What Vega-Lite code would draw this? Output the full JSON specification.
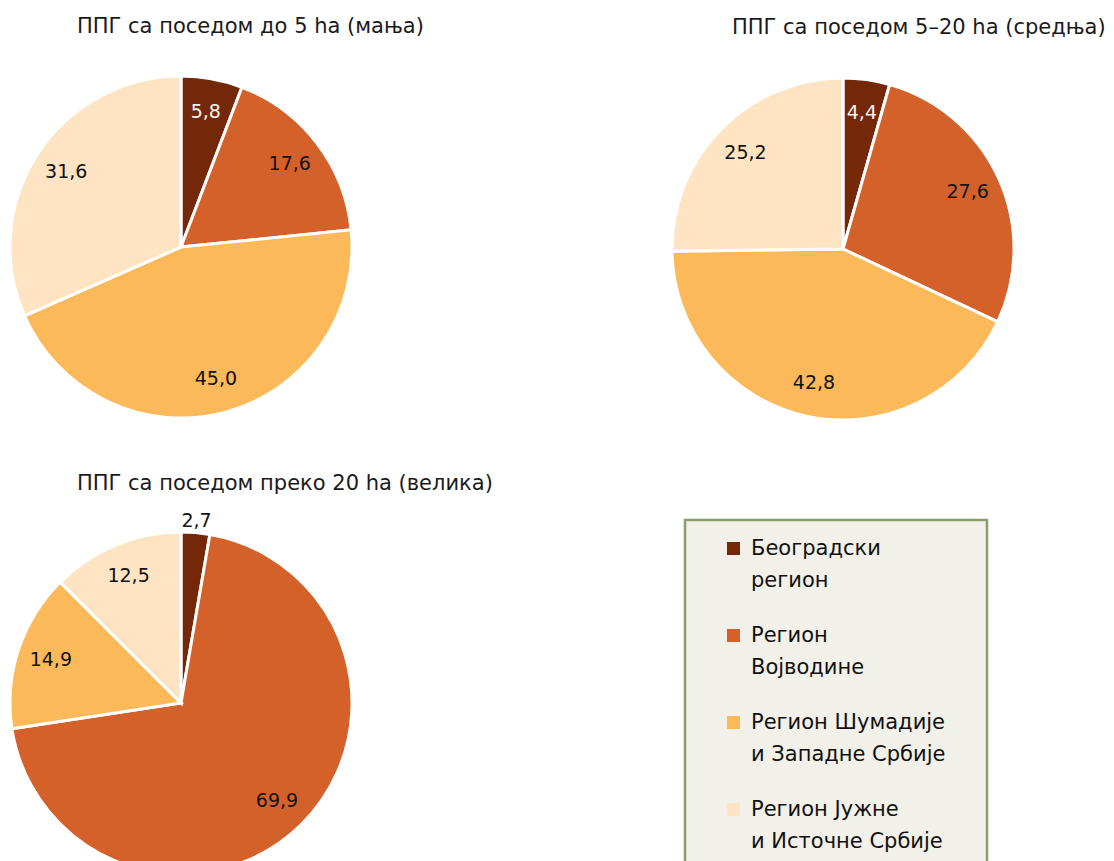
{
  "$schema": "https://vega.github.io/schema/vega-lite/v6.json",
  "padding": {"left": 4, "top": 16, "right": 0, "bottom": 0},
  "config": {
    "view": {"stroke": null},
    "font": "DejaVu Sans",
    "locale": {"number": {"decimal": ",", "thousands": ".", "grouping": [3], "currency": ["", ""]}},
    "title": {"font": "DejaVu Sans", "fontSize": 21, "fontWeight": "normal", "color": "#1a1a1a", "anchor": "start", "baseline": "alphabetic"},
    "style": {"guide-label": {"lineHeight": 32}}
  },
  "data": {"values": [
    {"pie": "small", "region": "Београдски регион", "order": 1, "value": 5.8},
    {"pie": "small", "region": "Регион Војводине", "order": 2, "value": 17.6},
    {"pie": "small", "region": "Регион Шумадије и Западне Србије", "order": 3, "value": 45.0},
    {"pie": "small", "region": "Регион Јужне и Источне Србије", "order": 4, "value": 31.6},
    {"pie": "medium", "region": "Београдски регион", "order": 1, "value": 4.4},
    {"pie": "medium", "region": "Регион Војводине", "order": 2, "value": 27.6},
    {"pie": "medium", "region": "Регион Шумадије и Западне Србије", "order": 3, "value": 42.8},
    {"pie": "medium", "region": "Регион Јужне и Источне Србије", "order": 4, "value": 25.2},
    {"pie": "large", "region": "Београдски регион", "order": 1, "value": 2.7},
    {"pie": "large", "region": "Регион Војводине", "order": 2, "value": 69.9},
    {"pie": "large", "region": "Регион Шумадије и Западне Србије", "order": 3, "value": 14.9},
    {"pie": "large", "region": "Регион Јужне и Источне Србије", "order": 4, "value": 12.5}
  ]},
  "spacing": 34,
  "resolve": {"scale": {"color": "shared"}, "legend": {"color": "independent"}},
  "vconcat": [
    {
      "spacing": 320,
      "bounds": "flush",
      "resolve": {"scale": {"color": "shared"}, "legend": {"color": "independent"}},
      "hconcat": [
        {
          "width": 342, "height": 342,
          "title": {"text": "ППГ са поседом до 5 ha (мања)", "dx": 73, "offset": 21},
          "transform": [{"filter": "datum.pie === 'small'"}],
          "encoding": {
            "theta": {"field": "value", "type": "quantitative", "stack": true},
            "order": {"field": "order", "type": "quantitative"},
            "color": {"field": "region", "type": "nominal", "legend": null,
              "scale": {"domain": ["Београдски регион", "Регион Војводине", "Регион Шумадије и Западне Србије", "Регион Јужне и Источне Србије"], "range": ["#742808", "#D5612A", "#FBB95A", "#FEE4C2"]}}
          },
          "layer": [
            {"mark": {"type": "arc", "outerRadius": 171, "stroke": "white", "strokeWidth": 3}},
            {"mark": {"type": "text", "radius": 137, "fontSize": 19, "font": "DejaVu Sans"},
             "encoding": {
               "text": {"condition": {"test": "datum.value < 3", "value": ""}, "field": "value", "type": "quantitative", "format": ".1f"},
               "color": {"condition": {"test": "datum.region === 'Београдски регион'", "value": "#f4f4f4"}, "value": "#111111"}}},
            {"mark": {"type": "text", "radius": 183, "fontSize": 19, "font": "DejaVu Sans"},
             "encoding": {
               "text": {"condition": {"test": "datum.value >= 3", "value": ""}, "field": "value", "type": "quantitative", "format": ".1f"},
               "color": {"value": "#111111"}}}
          ]
        },
        {
          "width": 342, "height": 346,
          "title": {"text": "ППГ са поседом 5–20 ha (средња)", "dx": 66, "offset": 21},
          "transform": [{"filter": "datum.pie === 'medium'"}],
          "encoding": {
            "theta": {"field": "value", "type": "quantitative", "stack": true},
            "order": {"field": "order", "type": "quantitative"},
            "color": {"field": "region", "type": "nominal", "legend": null,
              "scale": {"domain": ["Београдски регион", "Регион Војводине", "Регион Шумадије и Западне Србије", "Регион Јужне и Источне Србије"], "range": ["#742808", "#D5612A", "#FBB95A", "#FEE4C2"]}}
          },
          "layer": [
            {"mark": {"type": "arc", "outerRadius": 171, "stroke": "white", "strokeWidth": 3}},
            {"mark": {"type": "text", "radius": 137, "fontSize": 19, "font": "DejaVu Sans"},
             "encoding": {
               "text": {"condition": {"test": "datum.value < 3", "value": ""}, "field": "value", "type": "quantitative", "format": ".1f"},
               "color": {"condition": {"test": "datum.region === 'Београдски регион'", "value": "#f4f4f4"}, "value": "#111111"}}},
            {"mark": {"type": "text", "radius": 183, "fontSize": 19, "font": "DejaVu Sans"},
             "encoding": {
               "text": {"condition": {"test": "datum.value >= 3", "value": ""}, "field": "value", "type": "quantitative", "format": ".1f"},
               "color": {"value": "#111111"}}}
          ]
        }
      ]
    },
    {
      "spacing": 333,
      "bounds": "flush",
      "resolve": {"scale": {"color": "shared"}, "legend": {"color": "independent"}},
      "hconcat": [
        {
          "width": 342, "height": 366,
          "title": {"text": "ППГ са поседом преко 20 ha (велика)", "dx": 73, "offset": 18},
          "transform": [{"filter": "datum.pie === 'large'"}],
          "encoding": {
            "theta": {"field": "value", "type": "quantitative", "stack": true},
            "order": {"field": "order", "type": "quantitative"},
            "color": {"field": "region", "type": "nominal", "legend": null,
              "scale": {"domain": ["Београдски регион", "Регион Војводине", "Регион Шумадије и Западне Србије", "Регион Јужне и Источне Србије"], "range": ["#742808", "#D5612A", "#FBB95A", "#FEE4C2"]}}
          },
          "layer": [
            {"mark": {"type": "arc", "outerRadius": 171, "stroke": "white", "strokeWidth": 3}},
            {"mark": {"type": "text", "radius": 137, "fontSize": 19, "font": "DejaVu Sans"},
             "encoding": {
               "text": {"condition": {"test": "datum.value < 3", "value": ""}, "field": "value", "type": "quantitative", "format": ".1f"},
               "color": {"condition": {"test": "datum.region === 'Београдски регион'", "value": "#f4f4f4"}, "value": "#111111"}}},
            {"mark": {"type": "text", "radius": 183, "fontSize": 19, "font": "DejaVu Sans"},
             "encoding": {
               "text": {"condition": {"test": "datum.value >= 3", "value": ""}, "field": "value", "type": "quantitative", "format": ".1f"},
               "color": {"value": "#111111"}}}
          ]
        },
        {
          "width": 302, "height": 344,
          "view": {"fill": "#F2F1E9", "stroke": "#8C9C6C", "strokeWidth": 2.5},
          "transform": [{"filter": "datum.pie === 'small'"}],
          "mark": {"type": "text", "text": ""},
          "encoding": {
            "color": {"field": "region", "type": "nominal",
              "scale": {"domain": ["Београдски регион", "Регион Војводине", "Регион Шумадије и Западне Србије", "Регион Јужне и Источне Србије"], "range": ["#742808", "#D5612A", "#FBB95A", "#FEE4C2"]},
              "legend": {
                "title": null, "orient": "none", "legendX": 38, "legendY": 18, "padding": 0,
                "symbolType": "square", "symbolSize": 169, "symbolStrokeWidth": 0, "symbolOpacity": 1,
                "labelFont": "DejaVu Sans", "labelFontSize": 21, "labelColor": "#111111", "labelOffset": 7, "labelLimit": 400,
                "rowPadding": 33,
                "labelExpr": "indexof(datum.label, ' и ') > 0 ? [substring(datum.label, 0, indexof(datum.label, ' и ')), substring(datum.label, indexof(datum.label, ' и ') + 1)] : split(datum.label, ' ')"
              }}
          }
        }
      ]
    }
  ]
}
